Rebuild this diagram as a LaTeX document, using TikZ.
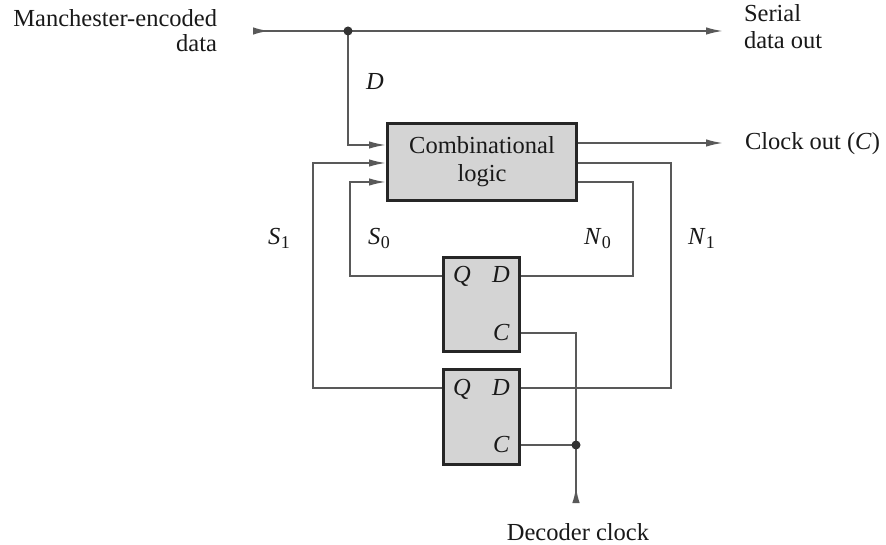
\documentclass[tikz,border=0pt]{standalone}
\usepackage{fontspec}
\setmainfont{Liberation Serif}
\usetikzlibrary{arrows.meta,decorations.markings}
\newcommand\myidx[2]{\textit{#1}\kern0.5pt\raisebox{-4pt}{\fontsize{18}{18}\selectfont #2}}
\begin{document}
\begin{tikzpicture}[x=1pt,y=-1pt,
  every node/.style={font=\fontsize{24.5}{28}\selectfont, text=black!90, inner sep=0pt, outer sep=0pt},
  wire/.style={draw=black!65, line width=1.8pt},
  tip/.style={-{Latex[length=17pt,width=7.5pt]}},
  block/.style={draw=black!85, line width=3.2pt, fill=black!17, rectangle},
  jdot/.style={circle, fill=black!80, minimum size=9pt, inner sep=0pt},
  startarrow/.style={postaction={decorate}, decoration={markings, mark=at position 16pt with {\arrow{Latex[length=16pt,width=7.5pt]}}}},
]
\useasboundingbox[fill=white] (0,0) rectangle (886,545);

% blocks
\node[block, minimum width=189pt, minimum height=77pt, align=center] (cl) at (482,162) {Combinational\\logic};
\node[block, minimum width=76pt, minimum height=94pt] (ff0) at (481.5,304.5) {};
\node[block, minimum width=76pt, minimum height=95pt] (ff1) at (481.5,417) {};

% flip-flop pin labels
\node[anchor=base west] (q0) at (453,283) {\textit{Q}};
\node[anchor=base west] (d0) at (492,283) {\textit{D}};
\node[anchor=base west] (c0) at (493,340) {\textit{C}};
\node[anchor=base west] (q1) at (453,395) {\textit{Q}};
\node[anchor=base west] (d1) at (492,395) {\textit{D}};
\node[anchor=base west] (c1) at (493,452) {\textit{C}};

% coordinates
\coordinate (min) at (253,31);
\coordinate (jn) at (348,31);
\coordinate (sout) at (723,31);
\coordinate (cD) at (386,145);
\coordinate (cS1) at (386,163);
\coordinate (cS0) at (386,182);
\coordinate (cClk) at (578,143);
\coordinate (cN1) at (578,163);
\coordinate (cN0) at (578,182);
\coordinate (clkout) at (723,143);
\coordinate (s1top) at (313,163);
\coordinate (s0top) at (350,182);
\coordinate (n1bot) at (671,388);
\coordinate (n0bot) at (633,276);
\coordinate (Q0pin) at (442,276);
\coordinate (D0pin) at (521,276);
\coordinate (C0pin) at (521,333);
\coordinate (Q1pin) at (442,388);
\coordinate (D1pin) at (521,388);
\coordinate (C1pin) at (521,445);
\coordinate (clkdot) at (576,445);
\coordinate (clkin) at (576,503);

% wires
\draw[wire, startarrow] (min) -- (jn);
\draw[wire, tip] (jn) -- (sout);
\draw[wire, tip] (jn) |- (cD);
\draw[wire, tip] (Q1pin) -| (s1top) -- (cS1);
\draw[wire, tip] (Q0pin) -| (s0top) -- (cS0);
\draw[wire, tip] (cClk) -- (clkout);
\draw[wire] (cN1) -| (n1bot) -- (D1pin);
\draw[wire] (cN0) -| (n0bot) -- (D0pin);
\draw[wire] (C0pin) -| (clkdot);
\draw[wire] (C1pin) -- (clkdot);
\draw[wire, startarrow] (clkin) -- (clkdot);
\node[jdot] (dot1) at (jn) {};
\node[jdot] (dot2) at (clkdot) {};

% texts
\node[anchor=east, align=right, font=\fontsize{24.5}{25}\selectfont] (mtext) at (217,31) {Manchester-encoded\\data};
\node[anchor=west, align=left, font=\fontsize{24.5}{27}\selectfont] (stext) at (744,27) {Serial\\data out};
\node[anchor=base west] (ctext) at (745,150) {Clock out (\textit{C})};
\node[anchor=base] (dtext) at (578,540) {Decoder clock};
\node[anchor=base] (dlab) at (375,90) {\textit{D}};
\node[anchor=base west] (s1lab) at (268,245) {\myidx{S}{1}};
\node[anchor=base west] (s0lab) at (368,245) {\myidx{S}{0}};
\node[anchor=base west] (n0lab) at (584,245) {\myidx{N}{0}};
\node[anchor=base west] (n1lab) at (688,245) {\myidx{N}{1}};
\end{tikzpicture}
\end{document}
